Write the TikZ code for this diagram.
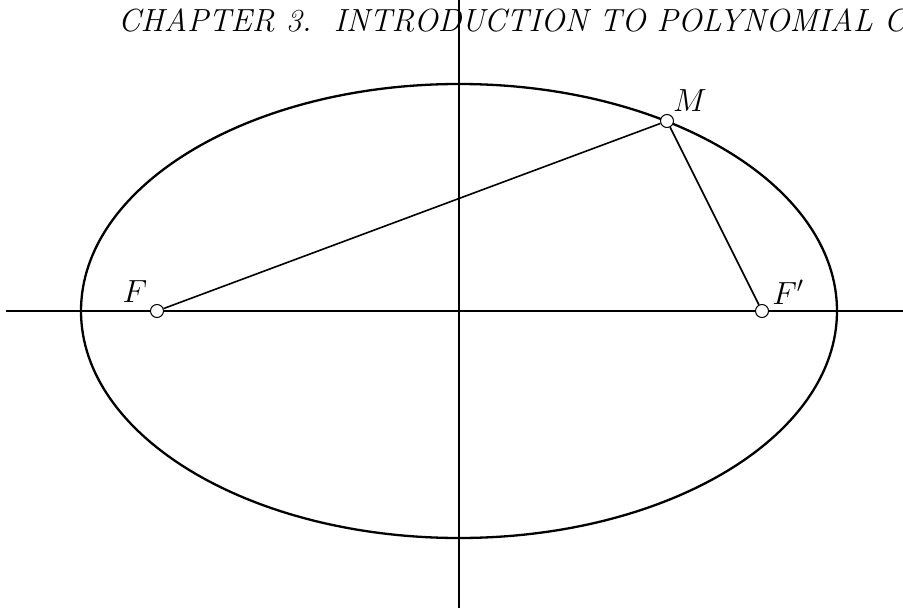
\documentclass[tikz,border=0pt]{standalone}
\usepackage{fix-cm}
\begin{document}
\begin{tikzpicture}[x=1pt,y=-1pt,
  axis/.style={line width=1.7pt},
  curve/.style={line width=2.3pt},
  seg/.style={line width=1.6pt},
  pt/.style={circle,draw,fill=white,line width=1pt,minimum size=13pt,inner sep=0pt},
  lbl/.style={font=\fontsize{32}{38}\selectfont}]
\useasboundingbox (0,0) rectangle (903,610);
\coordinate (O) at (459,311);
\coordinate (xl) at (6,311);
\coordinate (xr) at (903,311);
\coordinate (yt) at (459,0);
\coordinate (yb) at (459,608);
\node[lbl,anchor=base west,inner sep=0pt] (title) at (118,32) {\itshape CHAPTER 3.\ \ INTRODUCTION TO POLYNOMIAL C};
\draw[axis] (xl) -- (xr);
\draw[axis] (yt) -- (yb);
\draw[curve] (O) ellipse [x radius=378pt, y radius=227pt];
\node[pt] (F) at (157,311) {};
\node[pt] (Fp) at (762,311) {};
\node[pt] (M) at (667,121) {};
\draw[seg] (F) -- (M) -- (Fp);
\node[lbl] (lF) at (135,292) {$F$};
\node[lbl] (lFp) at (788,292) {$F'$};
\node[lbl] (lM) at (690,101) {$M$};
\end{tikzpicture}
\end{document}
